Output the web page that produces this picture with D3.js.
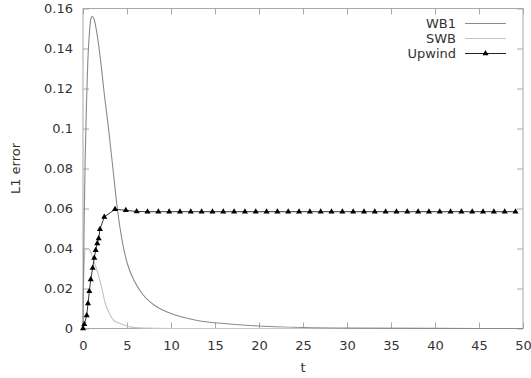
<!DOCTYPE html>
<html>
<head>
<meta charset="utf-8">
<script src="https://cdn.jsdelivr.net/npm/d3@7"></script>
<style>
  html, body { margin: 0; padding: 0; background: #fff; }
  svg { display: block; }
  text { font-family: "DejaVu Sans", sans-serif; fill: #333; }
</style>
</head>
<body>
<svg id="chart" width="531" height="378"></svg>
<script>
// L1 error over time for three schemes
const wb1T = [0, 0.05, 0.12, 0.25, 0.4, 0.55, 0.75, 0.9, 1.05, 1.3, 1.6, 2.0, 2.4, 2.9, 3.4, 3.9, 4.4, 5.0, 5.8, 6.8, 8, 10, 13, 16, 19, 25, 30, 40, 50];
const wb1V = [0, 0.02, 0.05, 0.085, 0.113, 0.134, 0.149, 0.155, 0.156, 0.154, 0.147, 0.134, 0.118, 0.1, 0.08, 0.06, 0.045, 0.033, 0.024, 0.017, 0.012, 0.0075, 0.004, 0.0025, 0.0015, 0.0005, 0.0002, 0.00005, 0];

const swbT = [0, 0.05, 0.15, 0.3, 0.6, 0.9, 1.2, 1.6, 2.1, 2.5, 3.0, 3.5, 4.2, 5.3, 7, 10, 50];
const swbV = [0, 0.02, 0.035, 0.04, 0.04, 0.038, 0.034, 0.029, 0.021, 0.013, 0.0075, 0.004, 0.0025, 0.0008, 0.0002, 0, 0];

const upT = [0, 0.15, 0.42, 0.57, 0.72, 0.88, 1.1, 1.28, 1.44, 1.62, 1.78, 1.93, 2.42,
  3.64, 4.87, 6.10, 7.33, 8.56, 9.79, 11.02, 12.25, 13.48, 14.71, 15.94, 17.17, 18.40, 19.63,
  20.86, 22.09, 23.32, 24.55, 25.78, 27.01, 28.24, 29.47, 30.70, 31.93, 33.16, 34.39, 35.62,
  36.85, 38.08, 39.31, 40.54, 41.77, 43.00, 44.23, 45.46, 46.69, 47.92, 49.15];
const upV = [0, 0.0021, 0.0065, 0.0125, 0.0186, 0.0245, 0.0303, 0.0353, 0.0391, 0.0425, 0.045, 0.0496, 0.0558,
  0.0596, 0.0591, 0.0585, 0.0584, 0.0584, 0.0584, 0.0584, 0.0584, 0.0584, 0.0584, 0.0584, 0.0584, 0.0584, 0.0584,
  0.0584, 0.0584, 0.0584, 0.0584, 0.0584, 0.0584, 0.0584, 0.0584, 0.0584, 0.0584, 0.0584, 0.0584, 0.0584,
  0.0584, 0.0584, 0.0584, 0.0584, 0.0584, 0.0584, 0.0584, 0.0584, 0.0584, 0.0584, 0.0584];

const xTicks = [0, 5, 10, 15, 20, 25, 30, 35, 40, 45, 50];
const yTicks = [0, 0.02, 0.04, 0.06, 0.08, 0.1, 0.12, 0.14, 0.16];
const yTickLabels = ["0", "0.02", "0.04", "0.06", "0.08", "0.1", "0.12", "0.14", "0.16"];

const seriesNames = ["WB1", "SWB", "Upwind"];
const seriesColors = ["#8a8a8a", "#c4c4c4", "#222"];

const svg = d3.select("#chart");
const L = 83, R = 523, T = 8.5, B = 328.5;
const x = d3.scaleLinear().domain([0, 50]).range([L, R]);
const y = d3.scaleLinear().domain([0, 0.16]).range([B, T]);

const borderColor = "#a8a8a8";
const tickLen = 6;

// frame
svg.append("rect").attr("x", L).attr("y", T).attr("width", R - L).attr("height", B - T)
  .attr("fill", "none").attr("stroke", borderColor).attr("stroke-width", 1);

// bottom / top axes, ticks pointing inward
const xBottom = d3.axisBottom(x).tickValues(xTicks).tickSize(-tickLen).tickPadding(12).tickFormat(d3.format("d"));
const xTop = d3.axisTop(x).tickValues(xTicks).tickSize(-tickLen).tickFormat("");
const yLeft = d3.axisLeft(y).tickValues(yTicks).tickSize(-tickLen).tickPadding(10)
  .tickFormat((d, i) => yTickLabels[i]);
const yRight = d3.axisRight(y).tickValues(yTicks).tickSize(-tickLen).tickFormat("");

function styleAxis(g) {
  g.select(".domain").remove();
  g.selectAll(".tick line").attr("stroke", borderColor);
  g.selectAll(".tick text").attr("font-size", 13).attr("fill", "#333")
    .attr("font-family", "DejaVu Sans, sans-serif");
}
svg.append("g").attr("transform", `translate(0,${B})`).call(xBottom).call(styleAxis);
svg.append("g").attr("transform", `translate(0,${T})`).call(xTop).call(styleAxis);
svg.append("g").attr("transform", `translate(${L},0)`).call(yLeft).call(styleAxis);
svg.append("g").attr("transform", `translate(${R},0)`).call(yRight).call(styleAxis);

// axis titles
svg.append("text").attr("x", (L + R) / 2).attr("y", 372).attr("text-anchor", "middle")
  .attr("font-size", 13).text("t");
svg.append("text").attr("transform", `translate(20,${(T + B) / 2}) rotate(-90)`)
  .attr("text-anchor", "middle").attr("font-size", 13).text("L1 error");

const line = d3.line().x(d => x(d[0])).y(d => y(d[1]));
const smooth = d3.line().curve(d3.curveMonotoneX).x(d => x(d[0])).y(d => y(d[1]));
const zipped = (ts, vs) => ts.map((t, i) => [t, vs[i]]);

const plot = svg.append("g");
plot.append("path").datum(zipped(swbT, swbV)).attr("d", smooth)
  .attr("fill", "none").attr("stroke", seriesColors[1]).attr("stroke-width", 1.1);
plot.append("path").datum(zipped(wb1T, wb1V)).attr("d", smooth)
  .attr("fill", "none").attr("stroke", seriesColors[0]).attr("stroke-width", 1.1);
const upData = zipped(upT, upV);
plot.append("path").datum(upData).attr("d", line)
  .attr("fill", "none").attr("stroke", seriesColors[2]).attr("stroke-width", 0.9);

const tri = d3.symbol().type(d3.symbolTriangle).size(16);
plot.selectAll("path.mk").data(upData).enter().append("path").attr("class", "mk")
  .attr("d", tri).attr("transform", d => `translate(${x(d[0])},${y(d[1])})`)
  .attr("fill", "#000");

// legend
const leg = svg.append("g");
seriesNames.forEach((name, i) => {
  const ly = 23.5 + i * 15;
  leg.append("text").attr("x", 456).attr("y", ly + 4.5).attr("text-anchor", "end")
    .attr("font-size", 13).text(name);
  leg.append("line").attr("x1", 465).attr("x2", 506).attr("y1", ly).attr("y2", ly)
    .attr("stroke", seriesColors[i]).attr("stroke-width", 1);
  if (i === 2) {
    leg.append("path").attr("d", tri).attr("transform", `translate(485.5,${ly})`).attr("fill", "#000");
  }
});
</script>
</body>
</html>
